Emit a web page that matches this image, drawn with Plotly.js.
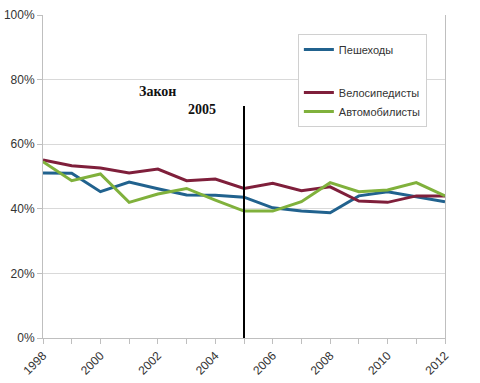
<!DOCTYPE html>
<html><head><meta charset="utf-8">
<script src="https://cdn.plot.ly/plotly-3.0.1.min.js"></script>
<style>html,body{margin:0;padding:0;background:#fff}#c{width:480px;height:383px}</style>
</head><body><div id="c"></div>
<script>
const years = [1998,1999,2000,2001,2002,2003,2004,2005,2006,2007,2008,2009,2010,2011,2012];
const pedestrians = [51.1,51.0,45.3,48.3,46.2,44.3,44.2,43.6,40.3,39.3,38.8,44.0,45.3,43.8,42.2];
const cyclists = [55.1,53.3,52.6,51.1,52.3,48.7,49.2,46.3,47.9,45.6,46.8,42.4,42.0,44.0,44.0];
const motorists = [54.6,48.7,50.8,42.0,44.6,46.3,42.7,39.3,39.3,42.2,48.1,45.3,45.8,48.1,44.0];
const names = ['Пешеходы','Велосипедисты','Автомобилисты'];
const colors = ['#21628e','#7f1f3b','#80b13c'];
const lawYear = 2005;
const lawTop = 71.8;

const series = [pedestrians, cyclists, motorists];
const traces = series.map((s,i)=>({
  x: years, y: s, type:'scatter', mode:'lines', name: names[i],
  line:{color:colors[i], width:3},
  legendgroup: i===0 ? 'a' : 'b'
}));

const layout = {
  width:480, height:383,
  margin:{l:43, r:35, t:15, b:45},
  paper_bgcolor:'#fff', plot_bgcolor:'#fff',
  font:{family:'Liberation Sans, Arial, sans-serif', size:12, color:'#333'},
  xaxis:{range:[1998,2012], dtick:2, tick0:1998, tickangle:-45,
    ticks:'outside', ticklen:5, tickcolor:'#bfbfbf',
    minor:{dtick:1, ticks:'outside', ticklen:5, tickcolor:'#bfbfbf', showgrid:false},
    showgrid:false, showline:true, linecolor:'#bfbfbf', linewidth:1, zeroline:false,
    tickfont:{size:12, color:'#333'}},
  yaxis:{range:[0,100], dtick:20, ticksuffix:'%', showgrid:true, gridcolor:'#d9d9d9',
    showline:true, mirror:true, linecolor:'#bfbfbf', ticks:'outside', ticklen:5, tickcolor:'#bfbfbf',
    zeroline:false, tickfont:{size:12, color:'#333'}},
  legend:{x:0.634, xanchor:'left', y:0.941, yanchor:'top',
    bgcolor:'#fff', bordercolor:'#d0d0d0', borderwidth:1,
    font:{size:11, color:'#333'}, traceorder:'grouped', tracegroupgap:24,
    itemwidth:30},
  shapes:[{type:'line', xref:'x', yref:'y', x0:lawYear, x1:lawYear, y0:0, y1:lawTop,
    line:{color:'#000', width:2}}],
  annotations:[
    {text:'<b>Закон</b>', x:2001.97, y:76.2, xref:'x', yref:'y', showarrow:false,
      font:{family:'Liberation Serif, Times New Roman, serif', size:14, color:'#111'}, xanchor:'center'},
    {text:'<b>2005</b>', x:2003.54, y:70.6, xref:'x', yref:'y', showarrow:false,
      font:{family:'Liberation Serif, Times New Roman, serif', size:14, color:'#111'}, xanchor:'center'}
  ],
  showlegend:true
};
Plotly.newPlot('c', traces, layout, {staticPlot:true});
</script></body></html>
